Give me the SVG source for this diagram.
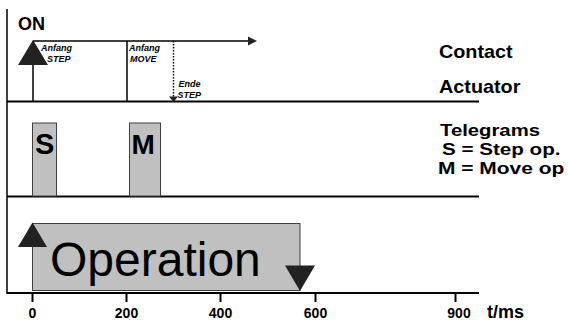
<svg xmlns="http://www.w3.org/2000/svg" width="568" height="325" viewBox="0 0 568 325">
<style>
text{font-family:"Liberation Sans",Arial,sans-serif;fill:#000}
.b{font-weight:bold}
.lbl{font-weight:bold;font-size:18px}
.lb2{font-weight:bold;font-size:16.5px}
.sm{font-weight:bold;font-style:italic;font-size:9px}
.tick{font-weight:bold;font-size:14px;text-anchor:middle}
.ln{stroke:#000;fill:none}
.tri{fill:#222;stroke:none}
.box{fill:#c0c0c0;stroke:#404040;stroke-width:1}
</style>
<rect width="568" height="325" fill="#fff"/>
<g id="frame">
<line class="ln" x1="7" y1="9" x2="7" y2="294" stroke-width="1.5"/>
<line class="ln" x1="7" y1="101.5" x2="479" y2="101.5" stroke-width="2"/>
<line class="ln" x1="7" y1="196.5" x2="479" y2="196.5" stroke-width="2"/>
<line class="ln" x1="7" y1="293" x2="479" y2="293" stroke-width="2"/>
</g>
<g id="connectors">
<line class="ln" x1="33" y1="41" x2="249" y2="41" stroke-width="1.5"/>
<polygon class="tri" points="248,36.5 257,41 248,45.5" fill="#000"/>
<line class="ln" x1="33" y1="41" x2="33" y2="101" stroke-width="1.5"/>
<line class="ln" x1="127" y1="41" x2="127" y2="101" stroke-width="1.5"/>
<line class="ln" x1="173.5" y1="41" x2="173.5" y2="97" stroke-width="1.5" stroke-dasharray="1.5,1.5"/>
<polygon class="tri" points="169,96.5 178,96.5 173.5,102"/>
</g>
<g id="on">
<text class="b" x="18" y="30" font-size="18">ON</text>
</g>
<g id="anfang-step">
<polygon class="tri" points="33,40 18,65 48,65"/>
<text class="sm" x="41" y="51">Anfang</text>
<text class="sm" x="47" y="62">STEP</text>
</g>
<g id="anfang-move">
<text class="sm" x="129" y="51">Anfang</text>
<text class="sm" x="130" y="62">MOVE</text>
</g>
<g id="ende-step">
<text class="sm" x="178.5" y="87">Ende</text>
<text class="sm" x="177.5" y="98">STEP</text>
</g>
<g id="labels">
<text class="lbl" transform="translate(439,58) scale(1.1,1)">Contact</text>
<text class="lbl" transform="translate(439,93) scale(1.1,1)">Actuator</text>
<text class="lb2" transform="translate(440,136) scale(1.23,1)">Telegrams</text>
<text class="lb2" transform="translate(442,155) scale(1.25,1)">S = Step op.</text>
<text class="lb2" transform="translate(438,174) scale(1.27,1)">M = Move op</text>
</g>
<g id="telegram-s">
<rect class="box" x="32.5" y="123" width="24" height="73"/>
<text class="b" x="35" y="154" font-size="29">S</text>
</g>
<g id="telegram-m">
<rect class="box" x="129.5" y="123" width="31" height="73"/>
<text class="b" x="131.5" y="154" font-size="28">M</text>
</g>
<g id="operation">
<rect class="box" x="32.5" y="223.5" width="267.5" height="67" stroke="#333" stroke-width="1.5"/>
<text x="50" y="276" font-size="48">Operation</text>
<polygon class="tri" points="32.5,222.5 18,247 47,247"/>
<polygon class="tri" points="285,265.5 315,265.5 300,291"/>
</g>
<g id="axis">
<g class="ln" stroke-width="2">
<line x1="32.5" y1="293" x2="32.5" y2="302"/>
<line x1="126.5" y1="293" x2="126.5" y2="302"/>
<line x1="220.5" y1="293" x2="220.5" y2="302"/>
<line x1="315.5" y1="293" x2="315.5" y2="302"/>
<line x1="455.5" y1="293" x2="455.5" y2="302"/>
</g>
<text class="tick" x="32.5" y="318">0</text>
<text class="tick" x="126.5" y="318">200</text>
<text class="tick" x="220.5" y="318">400</text>
<text class="tick" x="315.5" y="318">600</text>
<text class="tick" x="459" y="318">900</text>
<text class="b" x="487" y="318" font-size="18">t/ms</text>
</g>
</svg>
